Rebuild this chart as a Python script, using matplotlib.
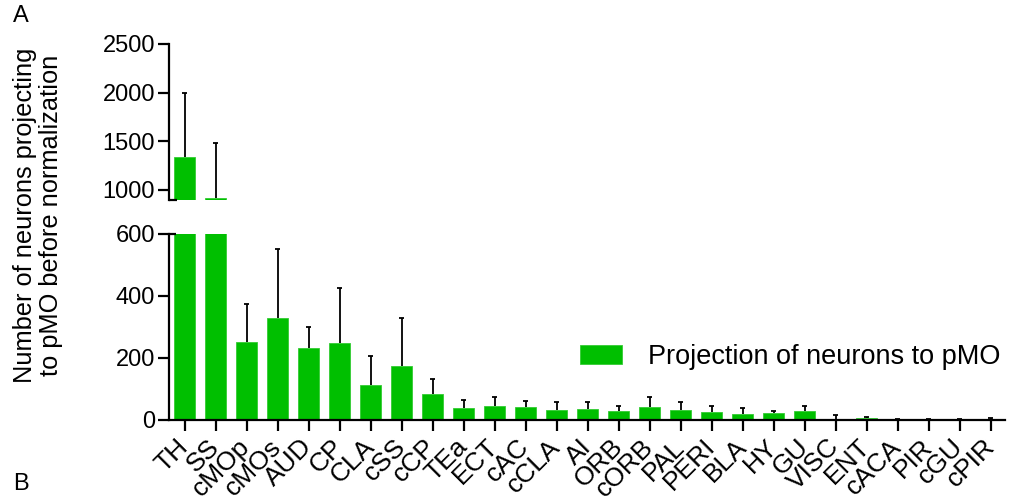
import matplotlib
matplotlib.use("Agg")
import matplotlib.pyplot as plt
import numpy as np

plt.rcParams['font.family'] = ['Liberation Sans', 'DejaVu Sans']

regions = ["TH", "SS", "cMOp", "cMOs", "AUD", "CP", "CLA", "cSS", "cCP", "TEa",
           "ECT", "cAC", "cCLA", "AI", "ORB", "cORB", "PAL", "PERI", "BLA", "HY",
           "GU", "VISC", "ENT", "cACA", "PIR", "cGU", "cPIR"]
means = [1335, 920, 251, 329, 232, 248, 110, 172, 82, 38,
         43, 40, 31, 33, 29, 39, 31, 23, 17, 20,
         26, 3, 5, 0.5, 0.3, 0.5, 1.5]
upper_err = [2000, 1478, 372, 553, 299, 425, 206, 327, 132, 62,
             74, 60, 56, 56, 44, 72, 57, 44, 38, 27,
             44, 13, 8, 2, 1, 3, 5]
yticks_low = [0, 200, 400, 600]
yticks_high = [1000, 1500, 2000, 2500]

green = "#00bf00"
W, H = 1010, 496
fig = plt.figure(figsize=(W / 100, H / 100), dpi=100)

left, right = 169 / W, 1005 / W
ax_lo = fig.add_axes([left, (H - 419.5) / H, right - left, (419.5 - 234) / H])
ax_hi = fig.add_axes([left, (H - 199.5) / H, right - left, (199.5 - 44) / H])

x = np.arange(len(regions))
m = np.array(means)
top = np.array(upper_err)
lw = 1.6
cap = 0.08

for ax in (ax_lo, ax_hi):
    ax.bar(x, m, width=0.66, color=green, edgecolor="#33cc33", linewidth=0.6, zorder=2,
           label="Projection of neurons to pMO")
    # one-sided (upper) error bars with a small cap
    ax.vlines(x, m, top, color="black", linewidth=1.3, zorder=3)
    ax.hlines(top, x - cap, x + cap, color="black", linewidth=1.3, zorder=3)
    ax.set_xlim(-0.5, 26.46)
    for s in ("top", "right"):
        ax.spines[s].set_visible(False)
    ax.spines["left"].set_linewidth(lw)
    ax.spines["bottom"].set_linewidth(lw)
    ax.tick_params(axis="y", direction="out", length=8, width=lw, labelsize=17, pad=2)
    ax.tick_params(axis="x", direction="out", length=8, width=lw, labelsize=19, pad=9)

ax_lo.set_ylim(0, 600)
ax_lo.set_yticks(yticks_low)
ax_lo.set_xticks(x)
ax_lo.set_xticklabels(regions, rotation=45, ha="right", va="center", rotation_mode="anchor")

ax_hi.set_ylim(902, 2500)
ax_hi.set_yticks(yticks_high)
ax_hi.spines["bottom"].set_visible(False)
ax_hi.set_xticks([])

# break marks on the y axis
ax_hi.plot([0, 0.009], [0, 0], transform=ax_hi.transAxes, color="black", lw=lw,
           clip_on=False, solid_capstyle="butt")
ax_lo.plot([0, 0.008], [1, 1], transform=ax_lo.transAxes, color="black", lw=lw,
           clip_on=False, solid_capstyle="butt")

ax_lo.legend(loc="upper left", bbox_to_anchor=((569 - 169) / (1005 - 169), 1 - (333 - 234) / (419.5 - 234)),
             frameon=False, fontsize=19.5, handlelength=1.55, handleheight=0.72,
             handletextpad=0.95, borderaxespad=0)

fig.text(38 / W, 1 - 215 / H, "Number of neurons projecting\nto pMO before normalization",
         rotation=90, ha="center", va="center", fontsize=18.3, linespacing=1.1)
fig.text(13 / W, 1 - 16 / H, "A", fontsize=17, ha="left", va="center")
fig.text(13 / W, 1 - 484 / H, "B", fontsize=17, ha="left", va="center")

fig.savefig("out.png", dpi=100)
